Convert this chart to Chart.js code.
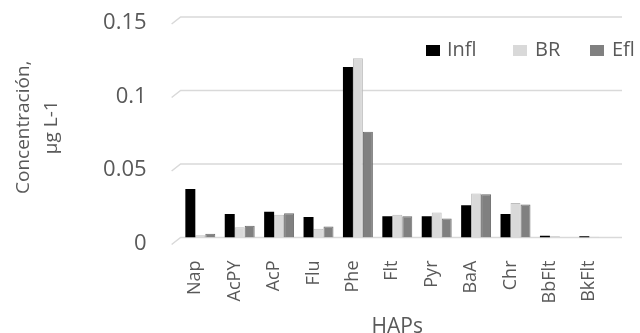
<!DOCTYPE html>
<html>
<head>
<meta charset="utf-8">
<script src="https://cdn.jsdelivr.net/npm/chart.js@4.4.1/dist/chart.umd.min.js"></script>
<style>
html,body{margin:0;padding:0;background:#fff;}
#c{display:block;}
</style>
</head>
<body>
<canvas id="c" width="640" height="333"></canvas>
<script>
const categories = ['Nap','AcPY','AcP','Flu','Phe','Flt','Pyr','BaA','Chr','BbFlt','BkFlt'];
const seriesNames = ['Infl','BR','Efl'];
const infl = [0.033, 0.016, 0.0175, 0.014, 0.116, 0.0145, 0.0145, 0.022, 0.016, 0.0012, 0.0008];
const br   = [0.0015, 0.007, 0.0155, 0.006, 0.122, 0.0155, 0.017, 0.030, 0.0235, 0.0008, 0.0005];
const efl  = [0.0025, 0.008, 0.0165, 0.0075, 0.072, 0.0145, 0.013, 0.0295, 0.0225, 0, 0];
const yTickLabels = ['0', '0.05', '0.1', '0.15'];
const yTitle = ['Concentración,', 'μg L-1'];
const xTitle = 'HAPs';

const TEXT = '#595959';
const FONT = "'Open Sans', sans-serif";

const decorPlugin = {
  id: 'decor',
  beforeDatasetsDraw(chart) {
    const {ctx, chartArea} = chart;
    const ys = chart.scales.y;
    ctx.save();
    ctx.strokeStyle = '#d9d9d9';
    ctx.lineWidth = 1.5;
    ys.ticks.forEach(t => {
      const y = ys.getPixelForValue(t.value);
      ctx.beginPath();
      ctx.moveTo(chartArea.left - 9, y + 7);
      ctx.lineTo(chartArea.left, y);
      ctx.lineTo(chartArea.right + 8, y);
      ctx.stroke();
    });
    ctx.restore();
  },
  afterDraw(chart) {
    const {ctx} = chart;
    const items = [
      {x: 426, tx: 447},
      {x: 513, tx: 535},
      {x: 590, tx: 612}
    ];
    ctx.save();
    ctx.font = "20px " + FONT;
    ctx.textBaseline = 'middle';
    ctx.textAlign = 'left';
    chart.data.datasets.forEach((ds, i) => {
      const it = items[i];
      ctx.fillStyle = ds.backgroundColor;
      ctx.fillRect(it.x, 45, 14, 11);
      ctx.fillStyle = TEXT;
      ctx.fillText(ds.label, it.tx, 50.5);
    });
    ctx.restore();
  }
};

new Chart(document.getElementById('c'), {
  type: 'bar',
  data: {
    labels: categories,
    datasets: [
      {label: seriesNames[0], data: infl, backgroundColor: '#000000', borderColor: '#000000', borderWidth: 0},
      {label: seriesNames[1], data: br, backgroundColor: '#d9d9d9', borderColor: '#bdbdbd', borderWidth: 1},
      {label: seriesNames[2], data: efl, backgroundColor: '#808080', borderColor: '#6a6a6a', borderWidth: 1}
    ]
  },
  options: {
    responsive: false,
    animation: false,
    devicePixelRatio: 1,
    layout: {padding: {top: 17, right: 26, left: 4, bottom: 0}},
    datasets: {bar: {categoryPercentage: 0.76, barPercentage: 1.0}},
    plugins: {
      legend: {display: false},
      tooltip: {enabled: false}
    },
    scales: {
      x: {
        grid: {display: false},
        border: {display: false},
        ticks: {
          maxRotation: 90, minRotation: 90, autoSkip: false,
          color: TEXT, padding: 15, labelOffset: -5,
          font: {family: FONT, size: 18}
        },
        title: {
          display: true, text: xTitle, color: TEXT,
          font: {family: FONT, size: 21, lineHeight: 0.6}, padding: {top: 2, bottom: 0}
        }
      },
      y: {
        min: 0, max: 0.15,
        grid: {display: false, drawTicks: false},
        border: {display: false},
        afterFit(scale) { scale.paddingTop = 0; scale.paddingBottom = 0; },
        ticks: {
          stepSize: 0.05, color: TEXT, padding: 34, labelOffset: 6,
          font: {family: FONT, size: 22},
          callback: (v, i) => yTickLabels[i]
        },
        title: {
          display: true, text: yTitle, color: TEXT,
          font: {family: FONT, size: 19, lineHeight: 1.45},
          padding: {top: 6, bottom: 4}
        }
      }
    }
  },
  plugins: [decorPlugin]
});
</script>
</body>
</html>
